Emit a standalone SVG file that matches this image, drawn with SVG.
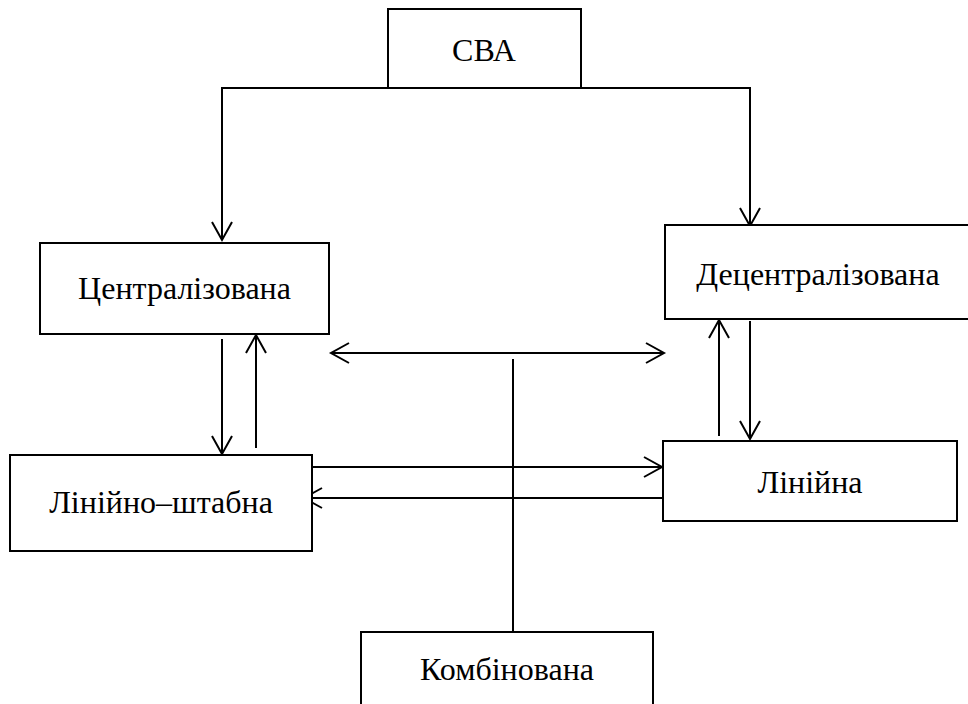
<svg xmlns="http://www.w3.org/2000/svg" width="968" height="704" viewBox="0 0 968 704">
  <style>
    .box { fill: #ffffff; stroke: #000000; stroke-width: 2; }
    .label { font-size: 32px; fill: #000000; text-anchor: middle; }
    .link { fill: none; stroke: #000000; stroke-width: 2; }
    .arrow { marker-end: url(#head); }
    .both { marker-start: url(#head); marker-end: url(#head); }
  </style>
  <defs>
    <!-- open V arrowhead, tip on the path end -->
    <marker id="head" markerUnits="userSpaceOnUse" markerWidth="24" markerHeight="26" viewBox="0 0 24 26" refX="20" refY="13" orient="auto-start-reverse">
      <path d="M2,3 L20,13 L2,23" fill="none" stroke="#000000" stroke-width="2"/>
    </marker>
  </defs>
  <rect width="968" height="704" fill="#ffffff"/>

  <g id="connectors">
    <path class="link arrow" d="M484,88 H222 V240"/>
    <path class="link arrow" d="M484,88 H750 V226"/>
    <path class="link arrow" d="M222,339 V454"/>
    <path class="link arrow" d="M256,448 V335"/>
    <path class="link both" d="M331,353 H664"/>
    <path class="link" d="M513,359 V632"/>
    <path class="link arrow" d="M312,467 H662"/>
    <path class="link arrow" d="M663,498 H304"/>
    <path class="link arrow" d="M750,321 V439"/>
    <path class="link arrow" d="M719,436 V320"/>
  </g>

  <g font-family="'Liberation Serif', 'Times New Roman', 'DejaVu Serif', serif">
    <g id="node-sva">
      <rect class="box" x="388" y="9" width="193" height="79"/>
      <text class="label" x="484" y="61">СВА</text>
    </g>
    <g id="node-centralized">
      <rect class="box" x="40" y="243" width="289" height="91"/>
      <text class="label" x="184.5" y="299">Централізована</text>
    </g>
    <g id="node-decentralized">
      <rect class="box" x="665" y="225" width="310" height="94"/>
      <text class="label" x="818" y="285">Децентралізована</text>
    </g>
    <g id="node-line-staff">
      <rect class="box" x="10" y="455" width="302" height="96"/>
      <text class="label" x="161" y="513">Лінійно–штабна</text>
    </g>
    <g id="node-linear">
      <rect class="box" x="663" y="441" width="294" height="80"/>
      <text class="label" x="810" y="493">Лінійна</text>
    </g>
    <g id="node-combined">
      <rect class="box" x="361" y="632" width="292" height="80"/>
      <text class="label" x="507" y="680">Комбінована</text>
    </g>
  </g>
</svg>
